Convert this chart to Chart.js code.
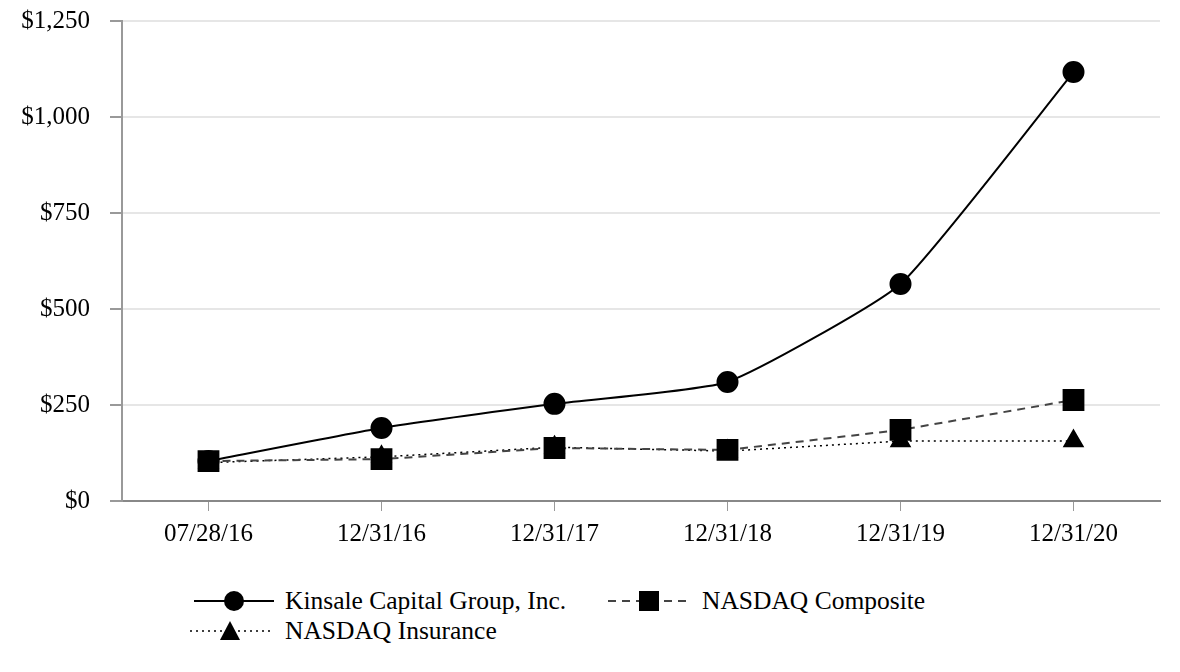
<!DOCTYPE html>
<html>
<head>
<meta charset="utf-8">
<script src="https://cdn.jsdelivr.net/npm/chart.js@4"></script>
<style>
  body { margin: 0; background: #fff; font-family: "Liberation Serif", "Times New Roman", serif; }
  #wrap { position: absolute; left: 0; top: 0; width: 1180px; height: 560px; }
  .leg { position: absolute; font-size: 25.5px; color: #000; white-space: nowrap; line-height: 30px; }
  .leg svg { position: absolute; top: 0; }
  .leg span { position: absolute; top: 0; }
</style>
</head>
<body>
<div id="wrap"><canvas id="chart"></canvas></div>

<div class="leg" style="left:0; top:586px;">
  <svg style="left:192px" width="84" height="30">
    <line x1="2" y1="15" x2="82" y2="15" stroke="#000" stroke-width="2"/>
    <circle cx="42" cy="15" r="10" fill="#000"/>
  </svg>
  <span style="left:285px">Kinsale Capital Group, Inc.</span>
  <svg style="left:606px" width="86" height="30">
    <line x1="2" y1="15" x2="84" y2="15" stroke="#444" stroke-width="2" stroke-dasharray="8,6"/>
    <rect x="33" y="5" width="20" height="20" fill="#000"/>
  </svg>
  <span style="left:702px">NASDAQ Composite</span>
</div>
<div class="leg" style="left:0; top:616px;">
  <svg style="left:188px" width="84" height="30">
    <line x1="2" y1="15" x2="82" y2="15" stroke="#000" stroke-width="1.5" stroke-dasharray="2,4"/>
    <polygon points="42,5 52,24 32,24" fill="#000"/>
  </svg>
  <span style="left:285px">NASDAQ Insurance</span>
</div>

<script>
const labels = ["07/28/16", "12/31/16", "12/31/17", "12/31/18", "12/31/19", "12/31/20"];
const kinsale = [104, 190, 253, 310, 565, 1117];
const nasdaqComposite = [104, 109, 138, 133, 185, 263];
const nasdaqInsurance = [100, 115, 140, 130, 156, 156];
const yTicks = [0, 250, 500, 750, 1000, 1250];

const serif = "'Liberation Serif', 'Times New Roman', serif";

new Chart(document.getElementById("chart"), {
  type: "line",
  data: {
    labels: labels,
    datasets: [
      {
        label: "Kinsale Capital Group, Inc.",
        data: kinsale,
        borderColor: "#000",
        backgroundColor: "#000",
        borderWidth: 2,
        pointStyle: "circle",
        pointRadius: 10,
        pointHoverRadius: 10,
        tension: 0.15,
        order: 1,
      },
      {
        label: "NASDAQ Composite",
        data: nasdaqComposite,
        borderColor: "#444",
        backgroundColor: "#000",
        pointBorderColor: "#000",
        borderWidth: 2,
        borderDash: [8, 6],
        pointStyle: "rect",
        pointRadius: 14,
        pointHoverRadius: 14,
        tension: 0,
        order: 0,
      },
      {
        label: "NASDAQ Insurance",
        data: nasdaqInsurance,
        borderColor: "#000",
        backgroundColor: "#000",
        borderWidth: 1.5,
        borderDash: [2, 4],
        pointStyle: "triangle",
        pointRadius: 11,
        pointHoverRadius: 11,
        tension: 0,
        order: 2,
      },
    ],
  },
  options: {
    responsive: true,
    maintainAspectRatio: false,
    animation: false,
    layout: { padding: { left: 0, right: 20, top: 21, bottom: 0 } },
    plugins: {
      legend: { display: false },
      tooltip: { enabled: false },
    },
    scales: {
      x: {
        offset: true,
        afterFit: (scale) => {
          scale.height = 59;
          scale.paddingLeft = 0;
          scale.paddingRight = 0;
        },
        grid: {
          offset: false,
          drawOnChartArea: false,
          drawTicks: true,
          tickLength: 10,
          tickColor: "#999",
        },
        border: { color: "#888", width: 2 },
        ticks: {
          color: "#000",
          padding: 8,
          maxRotation: 0,
          font: { family: serif, size: 25 },
        },
      },
      y: {
        min: 0,
        max: 1250,
        afterFit: (scale) => {
          scale.width = 122;
          scale.paddingTop = 0;
          scale.paddingBottom = 0;
        },
        afterBuildTicks: (scale) => { scale.ticks = yTicks.map((v) => ({ value: v })); },
        grid: {
          color: "#e6e6e6",
          lineWidth: 2,
          drawTicks: true,
          tickLength: 12,
          tickColor: "#999",
        },
        border: { color: "#999", width: 2 },
        ticks: {
          color: "#000",
          padding: 20,
          font: { family: serif, size: 25 },
          callback: (v) => "$" + v.toLocaleString("en-US"),
        },
      },
    },
  },
});
</script>
</body>
</html>
